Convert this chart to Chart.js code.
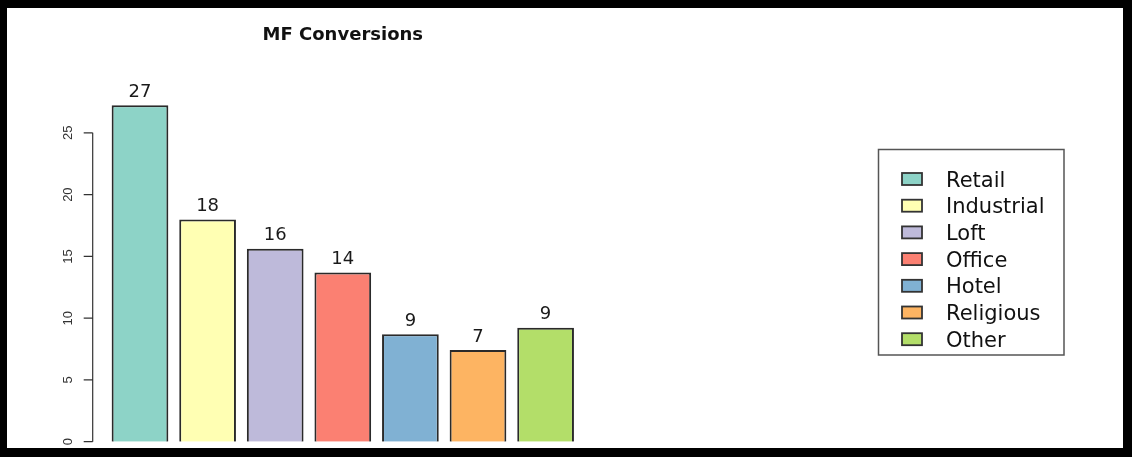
<!DOCTYPE html>
<html>
<head>
<meta charset="utf-8">
<script src="https://cdn.jsdelivr.net/npm/chart.js@4/dist/chart.umd.min.js"></script>
<style>
  html, body { margin: 0; padding: 0; background: #fff; }
  #wrap { width: 1132px; height: 457px; position: relative; }
</style>
</head>
<body>
<div id="wrap"><canvas id="c" width="1132" height="457"></canvas></div>
<script>
// ---- data ----
const titleText = 'MF Conversions';
const categories = ['Retail', 'Industrial', 'Loft', 'Office', 'Hotel', 'Religious', 'Other'];
const values = [27.24, 17.99, 15.61, 13.7, 8.69, 7.42, 9.22];
const valueLabels = ['27', '18', '16', '14', '9', '7', '9'];
const barColors = ['#8DD3C7', '#FFFFB3', '#BEBADA', '#FB8072', '#80B1D3', '#FDB462', '#B3DE69'];
const yTickValues = [0, 5, 10, 15, 20, 25];

// ---- plugins ----
const rAxisPlugin = {
  id: 'rAxis',
  afterDraw(chart) {
    const ctx = chart.ctx;
    const y = chart.scales.y;
    const axisX = chart.chartArea.left - 13.5;
    ctx.save();
    ctx.strokeStyle = '#333';
    ctx.lineWidth = 1.2;
    ctx.beginPath();
    ctx.moveTo(axisX, y.getPixelForValue(yTickValues[0]));
    ctx.lineTo(axisX, y.getPixelForValue(yTickValues[yTickValues.length - 1]));
    yTickValues.forEach(v => {
      const py = y.getPixelForValue(v);
      ctx.moveTo(axisX, py);
      ctx.lineTo(axisX - 9, py);
    });
    ctx.stroke();
    ctx.fillStyle = '#333';
    ctx.font = '13px "Liberation Sans", Arial, sans-serif';
    ctx.textAlign = 'center';
    ctx.textBaseline = 'middle';
    yTickValues.forEach(v => {
      const py = y.getPixelForValue(v);
      ctx.save();
      ctx.translate(axisX - 24.5, py);
      ctx.rotate(-Math.PI / 2);
      ctx.fillText(String(v), 0, 0);
      ctx.restore();
    });
    ctx.restore();
  }
};

const valueLabelPlugin = {
  id: 'valueLabels',
  afterDatasetsDraw(chart) {
    const ctx = chart.ctx;
    const meta = chart.getDatasetMeta(0);
    ctx.save();
    ctx.fillStyle = '#1a1a1a';
    ctx.font = '18px "DejaVu Sans", sans-serif';
    ctx.textAlign = 'center';
    ctx.textBaseline = 'alphabetic';
    meta.data.forEach((bar, i) => {
      ctx.fillText(valueLabels[i], bar.x, bar.y - 8.5);
    });
    ctx.restore();
  }
};

const boxLegendPlugin = {
  id: 'boxLegend',
  afterDraw(chart) {
    const ctx = chart.ctx;
    ctx.save();
    ctx.strokeStyle = '#555';
    ctx.lineWidth = 1.5;
    ctx.strokeRect(878.5, 149.5, 185.5, 205.5);
    ctx.font = '21px "DejaVu Sans", sans-serif';
    ctx.textAlign = 'left';
    ctx.textBaseline = 'alphabetic';
    categories.forEach((name, i) => {
      const cy = 179 + i * 26.7;
      ctx.fillStyle = barColors[i];
      ctx.fillRect(902, cy - 6, 20, 12);
      ctx.strokeStyle = '#333';
      ctx.lineWidth = 1.8;
      ctx.strokeRect(902, cy - 6, 20, 12);
      ctx.fillStyle = '#111';
      ctx.fillText(name, 946, cy + 7.6);
    });
    ctx.restore();
  }
};

const framePlugin = {
  id: 'frame',
  beforeDraw(chart) {
    const ctx = chart.ctx;
    ctx.save();
    ctx.fillStyle = '#fff';
    ctx.fillRect(0, 0, chart.width, chart.height);
    ctx.restore();
  },
  afterDraw(chart) {
    const ctx = chart.ctx;
    ctx.save();
    ctx.fillStyle = '#000';
    ctx.fillRect(0, 0, chart.width, 8);
    ctx.fillRect(0, 0, 7, chart.height);
    ctx.fillRect(chart.width - 9, 0, 9, chart.height);
    ctx.fillRect(0, chart.height - 9, chart.width, 9);
    ctx.restore();
  }
};

new Chart(document.getElementById('c'), {
  type: 'bar',
  data: {
    labels: categories,
    datasets: [{
      data: values,
      backgroundColor: barColors,
      borderColor: '#2a2a2a',
      borderWidth: 2,
      barPercentage: 0.839,
      categoryPercentage: 1.0
    }]
  },
  options: {
    responsive: false,
    animation: false,
    devicePixelRatio: 1,
    layout: { padding: { left: 106.2, right: 552.6, top: 0, bottom: 15.3 } },
    scales: {
      x: { display: false, offset: true },
      y: { display: false, min: 0, max: 28 }
    },
    plugins: {
      legend: { display: false },
      tooltip: { enabled: false },
      title: {
        display: true,
        text: titleText,
        fullSize: false,
        color: '#111',
        font: { family: '"DejaVu Sans", sans-serif', size: 18, weight: 'bold' },
        padding: { top: 24.2, bottom: 50.0 }
      }
    }
  },
  plugins: [framePlugin, rAxisPlugin, valueLabelPlugin, boxLegendPlugin]
});
</script>
</body>
</html>
